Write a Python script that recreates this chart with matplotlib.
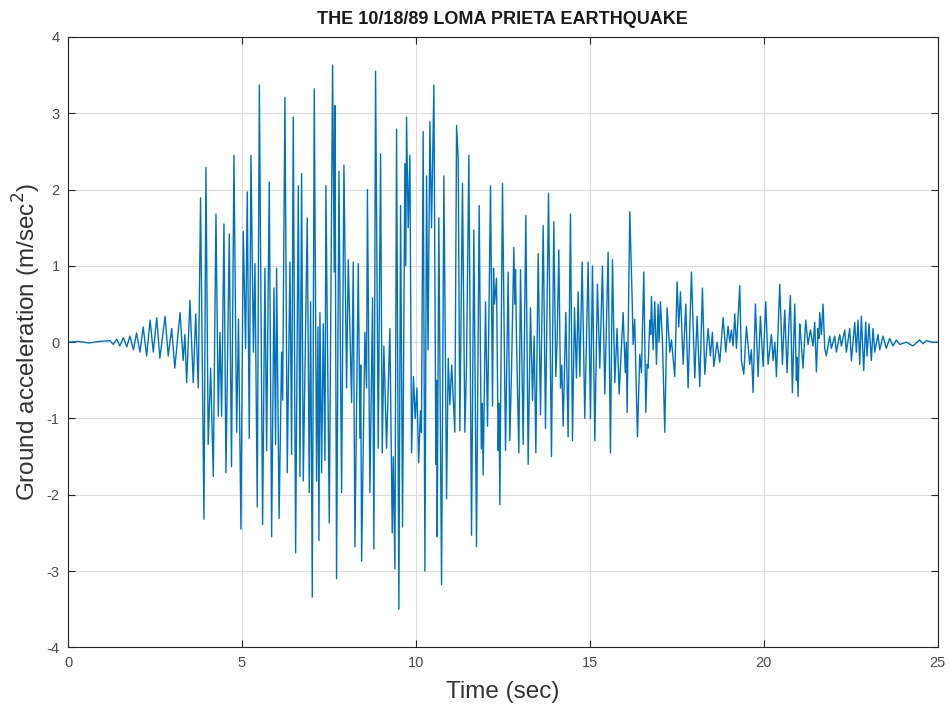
import numpy as np
import matplotlib
matplotlib.use("Agg")
import matplotlib.pyplot as plt

# accelerogram, as turning points (time in s, accel in m/s^2)
t_onset = [0.0, 0.3, 0.6, 0.9, 1.21, 1.30, 1.40, 1.49, 1.59, 1.69, 1.78, 1.88,
           1.97, 2.07, 2.16, 2.26, 2.36, 2.45, 2.55, 2.64, 2.79, 2.88, 2.98,
           3.07, 3.22, 3.31, 3.36, 3.41, 3.505, 3.60, 3.67, 3.745]
a_onset = [0.0, 0.01, -0.01, 0.01, 0.02, -0.03, 0.04, -0.05, 0.06, -0.06, 0.08, -0.1,
           0.12, -0.13, 0.2, -0.18, 0.29, -0.13, 0.32, -0.21, 0.34, -0.18, 0.18,
           -0.34, 0.39, -0.24, 0.1, -0.53, 0.55, -0.53, 0.37, -0.6]

t_strong = [3.81, 3.908, 3.965, 4.03, 4.10, 4.176, 4.253, 4.32, 4.368, 4.416,
            4.483, 4.54, 4.636, 4.70, 4.77, 4.847, 4.90, 4.971, 5.038, 5.105,
            5.153, 5.21, 5.259, 5.33, 5.374, 5.44, 5.50, 5.594, 5.66, 5.709,
            5.785, 5.853, 5.92, 5.967, 5.996, 6.068, 6.14, 6.17, 6.236, 6.303,
            6.38, 6.428, 6.476, 6.543, 6.62, 6.667, 6.715, 6.763, 6.878, 6.935,
            6.974, 7.022, 7.079, 7.146, 7.185, 7.213, 7.242, 7.29, 7.338, 7.386,
            7.414, 7.51, 7.606, 7.654, 7.673, 7.72, 7.788, 7.865, 7.932, 8.008,
            8.056, 8.152, 8.2, 8.248, 8.344, 8.392, 8.415, 8.44, 8.535, 8.583,
            8.607, 8.678, 8.755, 8.793, 8.841, 8.918, 8.985, 9.033, 9.08, 9.157,
            9.253, 9.32, 9.35, 9.397, 9.445, 9.512, 9.56, 9.617, 9.684, 9.71,
            9.732, 9.78, 9.828, 9.876, 9.93, 9.98, 10.03, 10.08, 10.13, 10.16,
            10.21, 10.26, 10.307, 10.35, 10.403, 10.45, 10.518, 10.575, 10.6,
            10.613, 10.66, 10.738, 10.805, 10.882, 10.93, 10.978, 11.03, 11.12,
            11.17, 11.216, 11.264, 11.34, 11.408, 11.456, 11.523, 11.6, 11.667,
            11.743, 11.82, 11.88, 11.91, 11.935, 12.002, 12.06, 12.146, 12.203,
            12.232, 12.26, 12.318, 12.366, 12.39, 12.414, 12.49, 12.577, 12.653,
            12.7, 12.75, 12.816, 12.845, 12.864, 12.893, 12.96, 13.008, 13.085,
            13.161, 13.228, 13.295, 13.353, 13.4, 13.449, 13.516, 13.583, 13.66,
            13.726, 13.813, 13.898, 13.965, 14.023, 14.06, 14.109, 14.157,
            14.195, 14.234, 14.31, 14.377, 14.444, 14.502, 14.56, 14.617,
            14.665, 14.713, 14.78, 14.856, 14.952, 15.019, 15.077, 15.144,
            15.22, 15.287, 15.364, 15.431, 15.527, 15.594, 15.651, 15.718,
            15.785, 15.843, 15.958, 16.02, 16.05, 16.073, 16.15, 16.217, 16.245,
            16.29, 16.37, 16.437, 16.485, 16.552, 16.61, 16.648, 16.677, 16.724,
            16.75, 16.772, 16.82, 16.868, 16.916, 16.964, 16.99, 17.031, 17.088,
            17.155]
a_strong = [1.89, -2.32, 2.29, -1.34, -0.34, -1.76, 1.68, -0.97, 0.13, -0.97,
            1.55, -1.71, 1.42, -1.63, 2.45, -1.18, 0.3, -2.45, 1.45, -0.08,
            1.97, -1.26, 2.45, -0.13, 1.03, -2.16, 3.37, -2.39, 0.97, -1.42,
            2.1, -2.55, 0.71, -1.34, 0.97, -2.31, -0.13, -0.76, 3.21, -1.71,
            1.05, -1.47, 2.95, -2.76, 2.05, -1.76, 2.21, -1.82, 1.63, -1.97,
            0.53, -3.34, 3.32, -1.82, 0.2, -2.6, 0.39, -1.71, 0.24, -1.55,
            2.05, -2.37, 3.63, 0.92, 3.1, -3.1, 2.24, -1.97, 2.32, -0.6,
            1.08, -0.79, 1.05, -2.68, 1.03, -1.26, -0.3, -2.87, 0.13, -0.6,
            2.0, -1.97, 0.58, -2.71, 3.55, -1.39, 2.47, -1.45, -0.05, -1.39,
            0.18, -2.5, -1.5, -2.97, 2.79, -3.5, 1.79, -2.42, 2.34, 1.0,
            2.95, 1.5, 2.45, -1.45, -0.45, -1.0, -0.6, -1.58, -0.9, -1.18,
            2.76, -3.0, 2.18, -0.1, 2.89, 1.5, 3.37, -1.6, -0.5,
            -2.55, 1.63, -3.18, 2.18, -2.05, -0.21, -0.82, -0.3, -1.18,
            2.84, 2.4, -1.16, 2.08, -1.18, -0.3, 2.45, -2.53, 1.47,
            -2.68, 1.79, -1.4, -0.8, -1.74, 0.53, -1.1, 2.05, -0.84,
            0.97, 0.5, 0.84, -1.42, -0.8, -2.13, 2.08, -1.42, 0.92,
            -1.29, -0.37, 1.24, 0.5, 0.95, 0.0, -1.45, 0.95, -1.34,
            1.66, -1.6, 0.45, -0.76, 0.08, -1.45, 1.16, -0.95, 1.53,
            -1.13, 1.95, -1.5, 1.58, -0.45, 0.0, 1.21, -0.6,
            -0.3, -1.1, 0.39, -1.24, 1.68, -1.29, 0.45, -0.47,
            0.66, -0.45, 1.05, -1.0, 1.05, -1.0, 1.0, -1.29,
            0.76, -0.34, 1.0, -0.68, 1.18, -1.45, 1.08, -0.53,
            0.18, -0.68, 0.39, -0.4, 0.0, -0.92, 1.71, 0.58, -0.03,
            0.3, -1.24, -0.16, -0.4, 0.92, -0.92, -0.29, -0.34, 0.29,
            0.1, 0.6, -0.1, 0.53, -0.29, 0.5, 0.0, 0.53, 0.03,
            -1.18]

t_coda = [17.222, 17.3, 17.347, 17.443, 17.51, 17.558, 17.606, 17.683, 17.76,
          17.826, 17.922, 18.018, 18.085, 18.161, 18.238, 18.305, 18.401,
          18.468, 18.525, 18.564, 18.66, 18.736, 18.832, 18.909, 18.976,
          19.024, 19.072, 19.12, 19.168, 19.215, 19.311, 19.359, 19.426,
          19.503, 19.598, 19.645, 19.694, 19.761, 19.838, 19.905, 19.982,
          20.058, 20.125, 20.221, 20.269, 20.32, 20.365, 20.46, 20.537,
          20.604, 20.671, 20.729, 20.767, 20.824, 20.891, 20.939, 20.96,
          20.987, 21.035, 21.064, 21.13, 21.207, 21.274, 21.341, 21.418,
          21.466, 21.514, 21.562, 21.585, 21.61, 21.658, 21.705, 21.753,
          21.8, 21.897, 21.945, 22.04, 22.089, 22.184, 22.232, 22.328,
          22.376, 22.472, 22.52, 22.616, 22.663, 22.711, 22.76, 22.807,
          22.874, 22.932, 22.97, 23.027, 23.094, 23.142, 23.19, 23.286,
          23.334, 23.43, 23.525, 23.62, 23.717, 23.813, 23.908, 24.1, 24.29,
          24.48, 24.58, 24.675, 24.85, 25.0]
a_coda = [0.45, -0.13, 0.03, -0.45, 0.79, 0.2, 0.66, -0.29, 0.5,
          -0.6, 0.92, -0.47, 0.34, -0.58, 0.71, -0.42, 0.18,
          -0.18, 0.13, -0.32, 0.0, -0.26, 0.32, -0.13, 0.21,
          0.0, 0.16, -0.05, 0.37, -0.08, 0.74, -0.24, -0.42,
          0.21, -0.29, -0.1, -0.66, 0.5, -0.45, 0.34, -0.32,
          0.53, -0.29, 0.1, -0.24, 0.0, -0.45, 0.76, -0.29,
          0.42, -0.4, 0.29, 0.61, -0.66, 0.5, -0.5, -0.2,
          -0.71, 0.24, 0.08, -0.34, 0.29, -0.03, 0.16, -0.05,
          0.26, -0.39, 0.18, 0.05, 0.39, 0.1, 0.5, -0.08,
          -0.18, 0.08, -0.08, 0.08, -0.13, 0.1, -0.05, 0.16,
          -0.13, 0.18, -0.24, 0.26, -0.13, 0.29, -0.29, 0.34,
          -0.37, 0.26, -0.18, 0.24, -0.24, 0.18, -0.13, 0.1,
          -0.1, 0.08, -0.08, 0.05, -0.05, 0.03, -0.03, 0.0, -0.05,
          0.03, -0.02, 0.02, 0.0, 0.0]

time = np.array(t_onset + t_strong + t_coda)
accel = np.array(a_onset + a_strong + a_coda)

plt.rcParams['font.family'] = ['Liberation Sans', 'DejaVu Sans']
plt.rcParams['axes.unicode_minus'] = False

fig = plt.figure(figsize=(9.5, 7.06), dpi=100)
ax = fig.add_axes([0.0716, 0.083, 0.9154, 0.8646])

ax.plot(time, accel, color='#0072BD', linewidth=1.0)

ax.set_xlim(0, 25)
ax.set_ylim(-4, 4)
ax.set_xticks(np.arange(0, 26, 5))
ax.set_yticks(np.arange(-4, 5, 1))
ax.grid(True, color='#dcdcdc', linewidth=0.8)
ax.set_axisbelow(True)
ax.tick_params(direction='in', top=True, right=True, labelsize=10.5,
               length=5, width=0.8, color='#262626', labelcolor='#4d4d4d',
               pad=6)
for s in ax.spines.values():
    s.set_color('#262626')
    s.set_linewidth(0.8)

ax.set_title('THE 10/18/89 LOMA PRIETA EARTHQUAKE', fontsize=13,
             fontweight='bold', pad=9, color='#1a1a1a')
ax.set_xlabel('Time (sec)', fontsize=17.5, labelpad=8, color='#333333')
ax.set_ylabel('Ground acceleration (m/sec$^2$)', fontsize=17.5, labelpad=3,
              color='#333333')

fig.savefig('out.png', dpi=100)
